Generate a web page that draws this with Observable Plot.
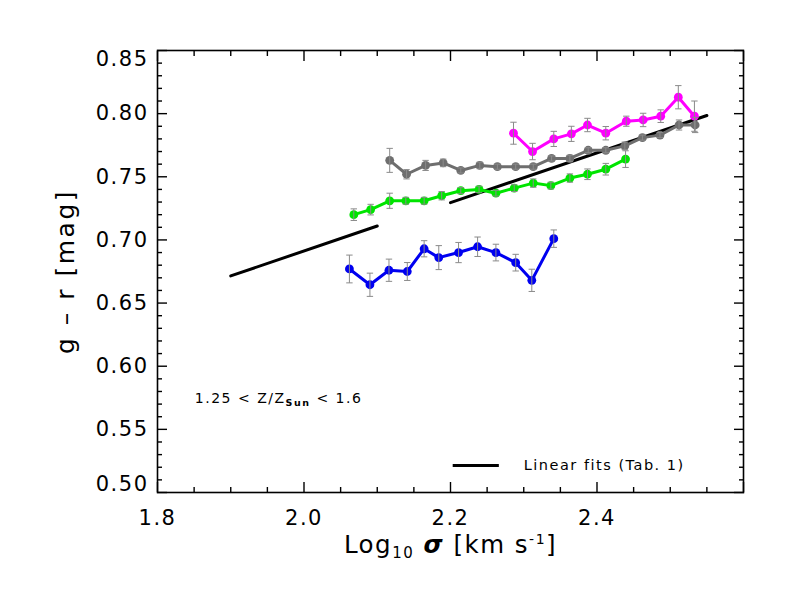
<!DOCTYPE html>
<html>
<head>
<meta charset="utf-8">
<script src="https://cdn.jsdelivr.net/npm/d3@7"></script>
<script src="https://cdn.jsdelivr.net/npm/@observablehq/plot@0.6"></script>
<style>
  html, body { margin: 0; padding: 0; background: #fff; }
  #chart { width: 789px; height: 592px; }
</style>
</head>
<body>
<div id="chart"></div>
<script>
// ---- data ----
const magentaX = [2.286, 2.312, 2.341, 2.365, 2.387, 2.412, 2.440, 2.463, 2.487, 2.511, 2.533];
const magentaY = [0.7845, 0.770, 0.780, 0.784, 0.791, 0.7845, 0.794, 0.795, 0.798, 0.813, 0.798];
const magentaE = [0.0087, 0.0065, 0.006, 0.006, 0.0053, 0.0053, 0.004, 0.0053, 0.005, 0.0092, 0.012];

const greyX = [2.117, 2.140, 2.166, 2.190, 2.214, 2.240, 2.264, 2.289, 2.313, 2.338, 2.363, 2.388, 2.412, 2.438, 2.462, 2.486, 2.512, 2.534];
const greyY = [0.763, 0.752, 0.759, 0.761, 0.755, 0.759, 0.758, 0.758, 0.758, 0.7645, 0.7645, 0.771, 0.771, 0.7745, 0.781, 0.783, 0.791, 0.791];
const greyE = [0.0095, 0.0037, 0.004, 0.003, 0.002, 0.0026, 0.002, 0.002, 0.002, 0.002, 0.0026, 0.002, 0.002, 0.003, 0.002, 0.002, 0.004, 0.006];

const greenX = [2.068, 2.091, 2.117, 2.139, 2.164, 2.188, 2.214, 2.239, 2.262, 2.287, 2.313, 2.337, 2.363, 2.387, 2.412, 2.439];
const greenY = [0.720, 0.724, 0.731, 0.731, 0.731, 0.735, 0.739, 0.740, 0.737, 0.741, 0.745, 0.743, 0.749, 0.752, 0.756, 0.764];
const greenE = [0.0046, 0.0042, 0.006, 0.0027, 0.0027, 0.0033, 0.0024, 0.0026, 0.0023, 0.0027, 0.0033, 0.0027, 0.0033, 0.0042, 0.0046, 0.0066];

const blueX = [2.062, 2.090, 2.116, 2.141, 2.164, 2.184, 2.211, 2.237, 2.262, 2.289, 2.311, 2.341];
const blueY = [0.677, 0.6645, 0.676, 0.675, 0.693, 0.686, 0.690, 0.6946, 0.690, 0.682, 0.668, 0.701];
const blueE = [0.011, 0.0092, 0.0088, 0.0071, 0.0064, 0.0095, 0.008, 0.0077, 0.0066, 0.0066, 0.0088, 0.0069];

// linear fits (Tab. 1), endpoints
const fit1X = [1.90, 2.10];
const fit1Y = [0.6715, 0.711];
const fit2X = [2.20, 2.55];
const fit2Y = [0.7295, 0.7985];

// axis ticks
const xMajor = [1.8, 2.0, 2.2, 2.4, 2.6];
const xMinor = [1.85, 1.9, 1.95, 2.05, 2.1, 2.15, 2.25, 2.3, 2.35, 2.45, 2.5, 2.55];
const xLabels = [1.8, 2.0, 2.2, 2.4];
const yMajor = [0.50, 0.55, 0.60, 0.65, 0.70, 0.75, 0.80, 0.85];
const yMinor = [0.51,0.52,0.53,0.54,0.56,0.57,0.58,0.59,0.61,0.62,0.63,0.64,0.66,0.67,0.68,0.69,
                0.71,0.72,0.73,0.74,0.76,0.77,0.78,0.79,0.81,0.82,0.83,0.84];
const yLabelsInner = [0.55, 0.60, 0.65, 0.70, 0.75, 0.80];
const yLabelTop = [0.85];
const yLabelBottom = [0.50];

// texts
const xTitle = "Log10 σ [km s-1]";
const yTitle = "g – r [mag]";
const noteText = "1.25 < Z/ZSun < 1.6";
const legendText = "Linear fits (Tab. 1)";
const notePos = {x: 1.851, y: 0.5744};
const legendPos = {x1: 2.203, x2: 2.266, y: 0.5214, tx: 2.30};

const mk = (xs, ys, es) => xs.map((x, i) => ({x, y: ys[i], e: es ? es[i] : 0}));
const series = [
  {name: "grey", color: "#6e6e6e", data: mk(greyX, greyY, greyE)},
  {name: "green", color: "#00e400", data: mk(greenX, greenY, greenE)},
  {name: "blue", color: "#0000f0", data: mk(blueX, blueY, blueE)},
  {name: "magenta", color: "#ff00ff", data: mk(magentaX, magentaY, magentaE)}
];
const fits = [mk(fit1X, fit1Y), mk(fit2X, fit2Y)];

const capSymbol = {
  draw(context, size) {
    const w = Math.sqrt(size / Math.PI);
    context.moveTo(-w, 0);
    context.lineTo(w, 0);
  }
};

const FONT = "DejaVu Sans";
const tickFont = 21;
const fmt2 = d3.format(".2f");
const fmt1 = d3.format(".1f");

const marks = [];
// fit lines
fits.forEach(f => marks.push(Plot.line(f, {x: "x", y: "y", stroke: "black", strokeWidth: 3})));
// series
series.forEach(s => {
  marks.push(Plot.line(s.data, {x: "x", y: "y", stroke: s.color, strokeWidth: 3}));
  marks.push(Plot.dot(s.data, {x: "x", y: "y", r: 4.4, fill: s.color, stroke: "none"}));
});
series.forEach(s => {
  marks.push(Plot.link(s.data, {x1: "x", x2: "x", y1: d => d.y - d.e, y2: d => d.y + d.e, stroke: "#8a8a8a", strokeWidth: 1}));
  marks.push(Plot.dot(s.data, {x: "x", y: d => d.y - d.e, r: 3.2, symbol: capSymbol, stroke: "#8a8a8a", strokeWidth: 1, fill: "none"}));
  marks.push(Plot.dot(s.data, {x: "x", y: d => d.y + d.e, r: 3.2, symbol: capSymbol, stroke: "#8a8a8a", strokeWidth: 1, fill: "none"}));
});

// legend
marks.push(Plot.link([legendPos], {x1: "x1", x2: "x2", y1: "y", y2: "y", stroke: "black", strokeWidth: 3}));
marks.push(Plot.text([legendText], {x: legendPos.tx, y: legendPos.y, text: d => d, textAnchor: "start", fontSize: 14.5, fill: "black"}));
// annotation
marks.push(Plot.text([noteText], {x: notePos.x, y: notePos.y, text: d => d, textAnchor: "start", fontSize: 14, fill: "black"}));

// ticks (inward)
marks.push(Plot.axisX(xMajor, {anchor: "bottom", tickSize: -10, fill: "none", label: null, strokeWidth: 1.4}));
marks.push(Plot.axisX(xMinor, {anchor: "bottom", tickSize: -5, fill: "none", label: null, strokeWidth: 1.4}));
marks.push(Plot.axisX(xMajor, {anchor: "top", tickSize: -10, fill: "none", label: null, strokeWidth: 1.4}));
marks.push(Plot.axisX(xMinor, {anchor: "top", tickSize: -5, fill: "none", label: null, strokeWidth: 1.4}));
marks.push(Plot.axisY(yMajor, {anchor: "left", tickSize: -10, fill: "none", label: null, strokeWidth: 1.4}));
marks.push(Plot.axisY(yMinor, {anchor: "left", tickSize: -5, fill: "none", label: null, strokeWidth: 1.4}));
marks.push(Plot.axisY(yMajor, {anchor: "right", tickSize: -10, fill: "none", label: null, strokeWidth: 1.4}));
marks.push(Plot.axisY(yMinor, {anchor: "right", tickSize: -5, fill: "none", label: null, strokeWidth: 1.4}));
// tick labels
marks.push(Plot.axisX(xLabels, {anchor: "bottom", tickSize: 0, tickPadding: 18, tickFormat: fmt1, label: null, fontSize: tickFont, fill: "black"}));
marks.push(Plot.axisY(yLabelsInner, {anchor: "left", tickSize: 0, tickPadding: 9, tickFormat: fmt2, label: null, fontSize: tickFont, fill: "black"}));
marks.push(Plot.axisY(yLabelTop, {anchor: "left", tickSize: 0, tickPadding: 9, tickFormat: fmt2, label: null, fontSize: tickFont, fill: "black", dy: 9}));
marks.push(Plot.axisY(yLabelBottom, {anchor: "left", tickSize: 0, tickPadding: 9, tickFormat: fmt2, label: null, fontSize: tickFont, fill: "black", dy: -8}));
// titles
marks.push(Plot.text([xTitle], {frameAnchor: "bottom", textAnchor: "middle", dy: 60, text: d => d, fontSize: 24.5, fill: "black"}));
marks.push(Plot.text([yTitle], {frameAnchor: "left", textAnchor: "middle", dx: -92, rotate: -90, text: d => d, fontSize: 25, fill: "black"}));
marks.push(Plot.frame({stroke: "black", strokeWidth: 1.6}));

const chart = Plot.plot({
  width: 789,
  height: 592,
  marginLeft: 157,
  marginRight: 46,
  marginTop: 50,
  marginBottom: 100,
  x: {domain: [1.8, 2.6], axis: null},
  y: {domain: [0.5, 0.85], axis: null},
  style: {fontFamily: FONT, background: "white", color: "black", overflow: "visible"},
  marks
});
document.getElementById("chart").appendChild(chart);

// letter spacing for the IDL-like wide font
d3.select(chart).selectAll("text").attr("letter-spacing", "1.5");
d3.select(chart).selectAll("text").filter(function() { return this.textContent === yTitle; }).attr("letter-spacing", "2.5");

// rich text (subscripts / superscripts)
function rich(plain, parts) {
  d3.select(chart).selectAll("text").filter(function() { return this.textContent === plain; }).each(function() {
    const t = d3.select(this);
    t.text(null);
    parts.forEach(p => {
      const ts = t.append("tspan").text(p.t);
      if (p.sub) ts.attr("baseline-shift", p.sub).attr("font-size", p.fs);
      if (p.style) ts.attr("font-style", p.style);
      if (p.weight) ts.attr("font-weight", p.weight);
    });
  });
}
rich(xTitle, [
  {t: "Log"}, {t: "10", sub: -5, fs: 15}, {t: " "}, {t: "σ", style: "italic", weight: "bold"},
  {t: " [km s"}, {t: "-1", sub: 9, fs: 14}, {t: "]"}
]);
rich(noteText, [
  {t: "1.25 < Z/Z"}, {t: "Sun", sub: -3, fs: 9.5, weight: "600"}, {t: " < 1.6"}
]);
</script>
</body>
</html>
